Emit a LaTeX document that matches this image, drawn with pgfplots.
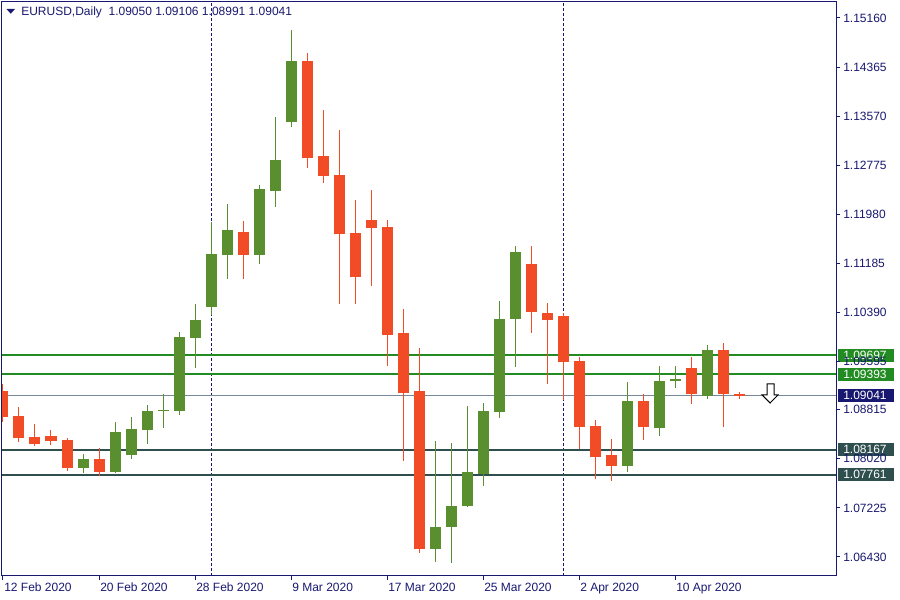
\documentclass[border=0pt]{standalone}
\usepackage{fontspec}
\setmainfont{Liberation Sans}
\newfontfamily\dejavu{DejaVu Sans}
\usepackage{graphicx}
\usepackage{pgfplots}
\usepackage{pgfplotstable}
\pgfplotsset{compat=1.18}

\definecolor{mtnavy}{RGB}{24,24,112}
\definecolor{bullgreen}{RGB}{90,143,48}
\definecolor{bearred}{RGB}{242,76,39}
\definecolor{lvlgreen}{RGB}{34,139,34}
\definecolor{lvlslate}{RGB}{47,79,79}
\definecolor{bidgray}{RGB}{119,136,153}

% daily bars, x = bar number (0 = 12 Feb 2020)
\pgfplotstableread{
i  o       h       l       c
5  1.07871 1.08098 1.07790 1.08017
7  1.07807 1.08616 1.07790 1.08454
8  1.08082 1.08697 1.08017 1.08503
9  1.08487 1.08892 1.08260 1.08795
10 1.08787 1.09070 1.08519 1.08803
11 1.08795 1.10074 1.08730 1.09993
12 1.09977 1.10528 1.09491 1.10269
13 1.10479 1.11856 1.10350 1.11338
14 1.11321 1.12147 1.10933 1.11726
16 1.11321 1.12455 1.11176 1.12390
17 1.12358 1.13557 1.12099 1.12860
18 1.13476 1.14966 1.13395 1.14464
27 1.06559 1.08309 1.06349 1.06916
28 1.06916 1.08276 1.06333 1.07256
29 1.07256 1.08876 1.07240 1.07807
30 1.07774 1.08924 1.07580 1.08795
31 1.08778 1.10576 1.08681 1.10285
32 1.10285 1.11467 1.09507 1.11370
39 1.07904 1.09264 1.07807 1.08957
41 1.08519 1.09523 1.08390 1.09281
42 1.09273 1.09523 1.09167 1.09313
44 1.09038 1.09864 1.08989 1.09783
}\bull

\pgfplotstableread{
i  o       h       l       c
0  1.09118 1.09232 1.08616 1.08697
1  1.08714 1.08859 1.08293 1.08357
2  1.08374 1.08584 1.08228 1.08260
3  1.08390 1.08487 1.08244 1.08309
4  1.08325 1.08357 1.07823 1.07871
6  1.08017 1.08195 1.07742 1.07807
15 1.11694 1.11872 1.10933 1.11321
19 1.14464 1.14593 1.12730 1.12892
20 1.12925 1.13670 1.12488 1.12601
21 1.12617 1.13346 1.10528 1.11661
22 1.11678 1.12212 1.10528 1.10965
23 1.11888 1.12374 1.10819 1.11759
24 1.11775 1.11888 1.09523 1.10026
25 1.10058 1.10447 1.07985 1.09086
26 1.09118 1.09815 1.06495 1.06559
33 1.11176 1.11467 1.10058 1.10398
34 1.10382 1.10544 1.09232 1.10269
35 1.10333 1.10382 1.08973 1.09588
36 1.09604 1.09669 1.08179 1.08535
37 1.08552 1.08649 1.07693 1.08050
38 1.08082 1.08341 1.07661 1.07904
40 1.08957 1.09070 1.08325 1.08535
43 1.09491 1.09669 1.08908 1.09070
45 1.09783 1.09896 1.08535 1.09070
46 1.09050 1.09106 1.08991 1.09041
}\bear

\tikzset{pricebox/.style={anchor=west, fill=#1, text=white, inner sep=0pt,
    minimum height=9.75pt, text width=42pt, xshift=1.5pt,
    font=\fontsize{9}{10}\selectfont}}
\pgfplotsset{candle/.style 2 args={draw=none, mark=none,
    error bars/.cd, y dir=plus, y explicit, error mark=none,
    error bar style={draw=#1, line width=#2}}}

\begin{document}
\begin{tikzpicture}
\useasboundingbox (-1.5pt,-18pt) rectangle (673.5pt,432pt);
\begin{axis}[
    at={(0,0)}, anchor=south west,
    scale only axis, width=625.5pt, height=430.5pt,
    xmin=-0.0625, xmax=52.0625,
    ymin=1.06122, ymax=1.15419,
    clip mode=individual,
    axis on top,
    axis line style={mtnavy, line width=0.75pt},
    font=\fontsize{9}{10}\selectfont,
    tick align=outside,
    major tick length=3pt,
    tick style={mtnavy, line width=0.75pt},
    xtick pos=bottom,
    ytick pos=right,
    yticklabel pos=right,
    xtick={0,6,12,18,24,30,36,42},
    xticklabels={12 Feb 2020,20 Feb 2020,28 Feb 2020,9 Mar 2020,17 Mar 2020,25 Mar 2020,2 Apr 2020,10 Apr 2020},
    xticklabel style={anchor=north west, inner sep=0pt, text=mtnavy, xshift=0.75pt, yshift=-2.25pt},
    ytick={1.06430,1.07225,1.08020,1.08815,1.09595,1.10390,1.11185,1.11980,1.12775,1.13570,1.14365,1.15160},
    yticklabels={1.06430,1.07225,1.08020,1.08815,1.09595,1.10390,1.11185,1.11980,1.12775,1.13570,1.14365,1.15160},
    yticklabel style={anchor=west, inner sep=0pt, text=mtnavy, xshift=2.25pt},
    /pgf/number format/assume math mode=true,
]

% month separators
\addplot[mtnavy, line width=0.75pt, dash pattern=on 2.25pt off 1.5pt] coordinates {(13,1.0612) (13,1.1542)};
\addplot[mtnavy, line width=0.75pt, dash pattern=on 2.25pt off 1.5pt] coordinates {(35,1.0612) (35,1.1542)};

% bid line and levels
\addplot[bidgray, line width=0.75pt] coordinates {(-1,1.09041) (53,1.09041)};
\addplot[lvlgreen, line width=1.5pt] coordinates {(-1,1.09697) (53,1.09697)};
\addplot[lvlgreen, line width=1.5pt] coordinates {(-1,1.09393) (53,1.09393)};
\addplot[lvlslate, line width=1.5pt] coordinates {(-1,1.08167) (53,1.08167)};
\addplot[lvlslate, line width=1.5pt] coordinates {(-1,1.07761) (53,1.07761)};

% wicks
\addplot[candle={bullgreen}{0.75pt}]
    table[x=i, y=l, y error plus expr=\thisrow{h}-\thisrow{l}] {\bull};
\addplot[candle={bearred}{0.75pt}]
    table[x=i, y=l, y error plus expr=\thisrow{h}-\thisrow{l}] {\bear};

% bodies (a doji still gets a visible 2px bar)
\addplot[candle={bullgreen}{8.25pt}]
    table[x=i, y=o, y error plus expr={max(\thisrow{c}-\thisrow{o},0.00025)}] {\bull};
\addplot[candle={bearred}{8.25pt}]
    table[x=i, y=c, y error plus expr={max(\thisrow{o}-\thisrow{c},0.00025)}] {\bear};

% sell arrow
\draw[black, fill=white, line width=0.75pt]
    (axis cs:47.75,1.09232) -- (axis cs:48.19,1.09232) -- (axis cs:48.19,1.09054)
    -- (axis cs:48.44,1.09054) -- (axis cs:47.94,1.08924) -- (axis cs:47.44,1.09054)
    -- (axis cs:47.75,1.09054) -- cycle;

% price boxes on the right scale
\node[pricebox=lvlgreen] at (axis cs:52.0625,1.09697) {\hspace*{3.75pt}1.09697};
\node[pricebox=lvlgreen] at (axis cs:52.0625,1.09393) {\hspace*{3.75pt}1.09393};
\node[pricebox=mtnavy]   at (axis cs:52.0625,1.09041) {\hspace*{3.75pt}1.09041};
\node[pricebox=lvlslate] at (axis cs:52.0625,1.08167) {\hspace*{3.75pt}1.08167};
\node[pricebox=lvlslate] at (axis cs:52.0625,1.07761) {\hspace*{3.75pt}1.07761};

% title
\node[anchor=west, text=mtnavy, inner sep=0pt, font=\fontsize{9}{10}\selectfont]
    at ([xshift=14.25pt, yshift=-7.5pt]rel axis cs:0,1)
    {EURUSD,Daily\ \ 1.09050 1.09106 1.08991 1.09041};
\node[text=mtnavy, inner sep=0pt, font=\dejavu\fontsize{8}{9}\selectfont]
    at ([xshift=6.75pt, yshift=-7.5pt]rel axis cs:0,1) {\scalebox{1.1}[0.6]{▼}};
\end{axis}
\end{tikzpicture}
\end{document}
